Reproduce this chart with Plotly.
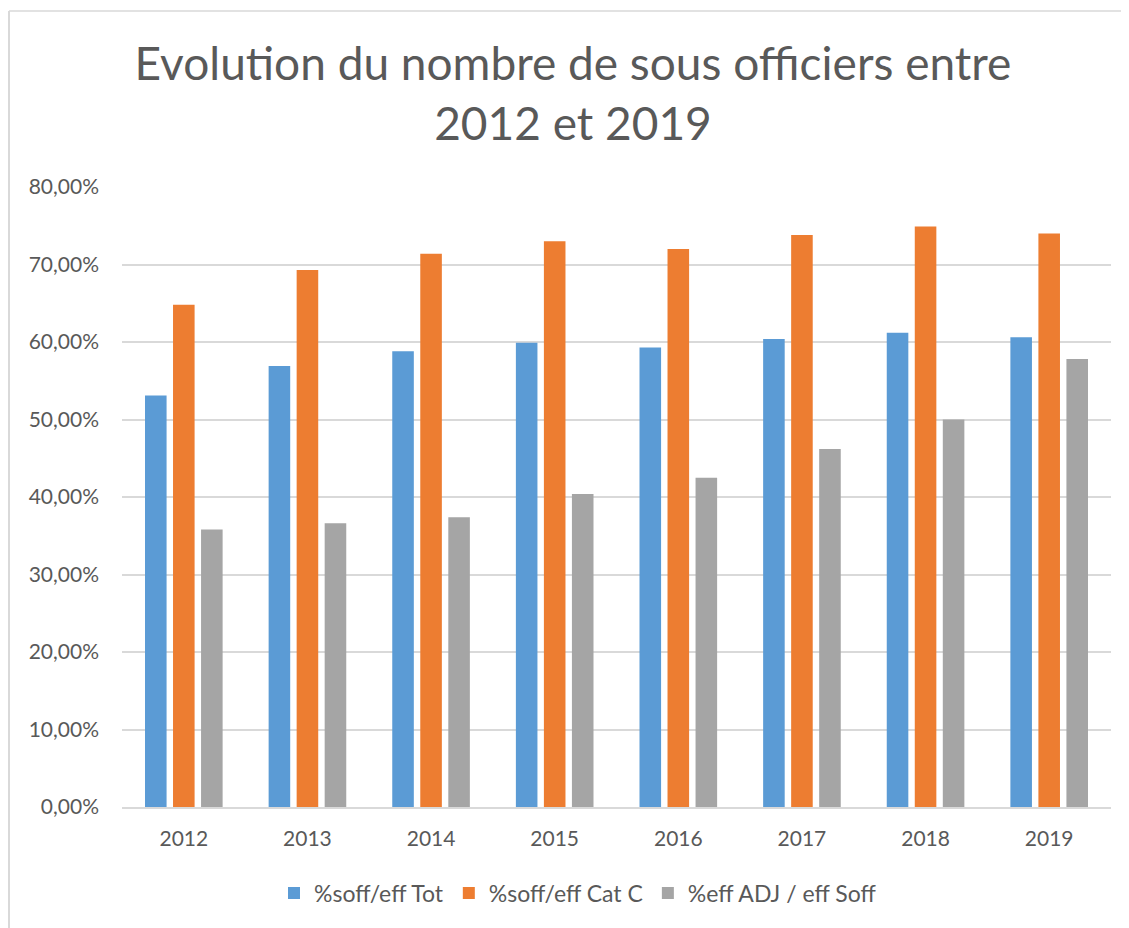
import plotly.graph_objects as go

years = ["2012", "2013", "2014", "2015", "2016", "2017", "2018", "2019"]
soff_tot = [0.531, 0.569, 0.588, 0.599, 0.593, 0.604, 0.612, 0.606]
soff_cat_c = [0.648, 0.693, 0.714, 0.730, 0.720, 0.738, 0.749, 0.740]
adj_soff = [0.358, 0.366, 0.374, 0.404, 0.425, 0.462, 0.500, 0.578]
y_ticks = [0, 0.1, 0.2, 0.3, 0.4, 0.5, 0.6, 0.7, 0.8]

BLUE = "#5B9BD5"
ORANGE = "#ED7D31"
GRAY = "#A5A5A5"
GRID = "#D9D9D9"
TEXT = "#595959"
FONT = "Lato, 'Open Sans', sans-serif"

fig = go.Figure()
for name, vals, col in [
    ("%soff/eff Tot", soff_tot, BLUE),
    ("%soff/eff Cat C", soff_cat_c, ORANGE),
    ("%eff ADJ / eff Soff", adj_soff, GRAY),
]:
    fig.add_trace(go.Bar(
        x=years, y=vals, name=name,
        marker=dict(color=col, line=dict(width=0)),
        hovertemplate="%{x}<br>%{y:.2%}<extra></extra>",
    ))

# page has an 8px body margin, so figure coords = page coords - 8
OFF = 8
W, H = 1129, 928
L, R, T, B = 122 - OFF, 26, 187 - OFF, 129
pw, ph = W - L - R, H - T - B
fx = (1 - L) / pw              # left frame edge, hugging the figure's left side
fy = (H - B - (11 - OFF)) / ph
frame = [
    dict(type="line", xref="paper", yref="paper", x0=fx, x1=fx, y0=-0.3, y1=fy,
         line=dict(color=GRID, width=2)),
    dict(type="line", xref="paper", yref="paper", x0=fx, x1=1.1, y0=fy, y1=fy,
         line=dict(color=GRID, width=1.5)),
]

fig.update_layout(
    width=W, height=H,
    margin=dict(l=L, r=R, t=T, b=B, autoexpand=False),
    paper_bgcolor="white", plot_bgcolor="white",
    separators=", ",
    font=dict(family=FONT, color=TEXT, size=21),
    title=dict(
        text="Evolution du nombre de sous officiers entre<br>2012 et 2019",
        x=(573 - OFF) / W, xanchor="center", y=1 - 72 / H, yanchor="middle",
        font=dict(family=FONT, size=46, color=TEXT),
    ),
    barmode="group", bargap=0.32, bargroupgap=0.23,
    xaxis=dict(showgrid=False, showline=True, linecolor=GRID, linewidth=1.5,
               ticks="", tickangle=0, automargin=False, ticklabelstandoff=12,
               tickfont=dict(size=21, color=TEXT)),
    yaxis=dict(range=[0, 0.8], tickvals=y_ticks, tickformat=".2%",
               showgrid=True, gridcolor=GRID, gridwidth=1.5, zeroline=False,
               ticks="", automargin=False, ticklabelstandoff=22,
               tickfont=dict(size=21, color=TEXT)),
    legend=dict(orientation="h", x=(578 - OFF - L) / pw, xanchor="center",
                y=(H - B - (893 - OFF)) / ph, yanchor="middle",
                font=dict(size=23, color=TEXT), traceorder="normal"),
    shapes=frame,
)

fig.write_html("out.html")
